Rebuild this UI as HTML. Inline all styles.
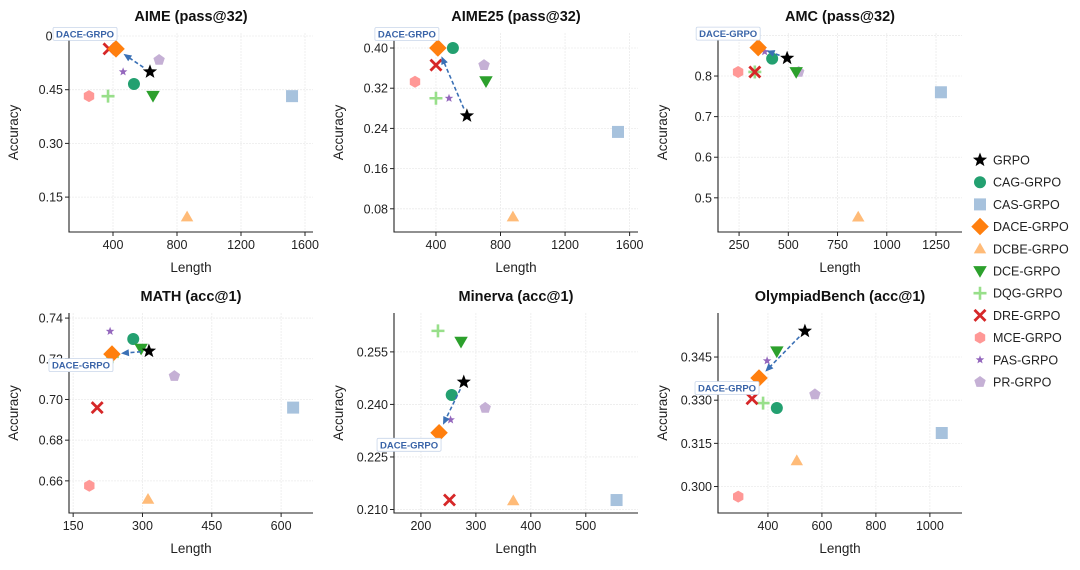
<!DOCTYPE html>
<html><head><meta charset="utf-8">
<style>
html,body{margin:0;padding:0;background:#fff;}
svg{display:block;font-family:"Liberation Sans",Arial,sans-serif;}
</style></head>
<body>
<svg id="chart" width="1080" height="570" viewBox="0 0 1080 570"></svg>
<script>
const methods = ["GRPO","CAG-GRPO","CAS-GRPO","DACE-GRPO","DCBE-GRPO","DCE-GRPO","DQG-GRPO","DRE-GRPO","MCE-GRPO","PAS-GRPO","PR-GRPO"];
const panelTitles = ["AIME (pass@32)","AIME25 (pass@32)","AMC (pass@32)","MATH (acc@1)","Minerva (acc@1)","OlympiadBench (acc@1)"];
// lengths per panel, in method order
const lenAIME    = [631,531,1519,419,863,650,369,375,250,463,688];
const accAIME    = [0.500,0.466,0.432,0.564,0.095,0.433,0.432,0.564,0.432,0.500,0.533];
const lenAIME25  = [592,505,1528,412,877,710,400,400,270,481,698];
const accAIME25  = [0.265,0.400,0.233,0.400,0.064,0.334,0.300,0.366,0.333,0.300,0.366];
const lenAMC     = [494,418,1275,347,855,540,330,330,245,380,553];
const accAMC     = [0.844,0.843,0.760,0.870,0.453,0.810,0.810,0.810,0.810,0.860,0.810];
const lenMATH    = [314,280,626,234,312,297,235,202,185,230,369];
const accMATH    = [0.7238,0.7297,0.696,0.7223,0.651,0.725,0.721,0.696,0.6576,0.7335,0.7115];
const lenMinerva = [278,256,556,233,368,273,231,252,null,254,317];
const accMinerva = [0.2464,0.2427,0.2127,0.2319,0.2125,0.2579,0.261,0.2127,null,0.2356,0.239];
const lenOly     = [537,433,1044,367,507,433,382,341,290,397,574];
const accOly     = [0.354,0.3273,0.3186,0.3377,0.309,0.347,0.329,0.3305,0.2965,0.3437,0.332];
const xTicksAll = [[400,800,1200,1600],[400,800,1200,1600],[250,500,750,1000,1250],[150,300,450,600],[200,300,400,500],[400,600,800,1000]];
const yTicksAll = [[0.15,0.30,0.45,0.6],[0.08,0.16,0.24,0.32,0.40],[0.5,0.6,0.7,0.8,0.9],[0.66,0.68,0.70,0.72,0.74],[0.210,0.225,0.240,0.255],[0.300,0.315,0.330,0.345]];
const yTickLabelsAll = [["0.15","0.30","0.45","0.6"],["0.08","0.16","0.24","0.32","0.40"],["0.5","0.6","0.7","0.8","0."],["0.66","0.68","0.70","0.72","0.74"],["0.210","0.225","0.240","0.255"],["0.300","0.315","0.330","0.345"]];

const lens=[lenAIME,lenAIME25,lenAMC,lenMATH,lenMinerva,lenOly];
const accs=[accAIME,accAIME25,accAMC,accMATH,accMinerva,accOly];
const domains=[[125,1650,0.0525,0.6084],[140,1652,0.0338,0.4299],[143,1382,0.4158,0.906],[141,669,0.6442,0.7425],[151,595,0.209,0.2661],[215,1119,0.2908,0.3603]];
const boxes=[[69,33,313,232],[394,33,638,232],[718,33,962,232],[69,313,313,513],[394,313,638,513],[718,313,962,513]];
const labelOff=[[-31,-15],[-31,-14],[-30,-14],[-31,11],[-30,12],[-32,10]];
const colors=["#000000","#23a070","#a7c2dd","#ff7f0e","#ffbb78","#2ca02c","#98df8a","#d62728","#ff9896","#9467bd","#c5b0d5"];
const shapes=["star","circle","square","diamond","triangle","tridown","plus","x","hexagon","star","pentagon"];
const sizes=[7.5,6,6,7,6,6.5,6.5,5.5,6,4.5,6];
const NS="http://www.w3.org/2000/svg";
const svg=document.getElementById("chart");
function mk(tag,attrs,parent){const e=document.createElementNS(NS,tag);for(const k in attrs)e.setAttribute(k,attrs[k]);(parent||svg).appendChild(e);return e;}
function poly(n,r,cx,cy,rot,inner){let p=[];const m=inner?2*n:n;for(let i=0;i<m;i++){const a=rot+i*Math.PI*2/m;const rr=(inner&&i%2)?r*inner:r;p.push((cx+rr*Math.sin(a)).toFixed(1)+","+(cy-rr*Math.cos(a)).toFixed(1));}return p.join(" ");}
function marker(g,shape,cx,cy,s,c){
  let e;
  if(shape==="circle") e=mk("circle",{cx,cy,r:s},g);
  else if(shape==="square") e=mk("rect",{x:cx-s,y:cy-s,width:2*s,height:2*s},g);
  else if(shape==="diamond") e=mk("polygon",{points:poly(4,s*1.25,cx,cy,0)},g);
  else if(shape==="triangle") e=mk("polygon",{points:poly(3,s*1.2,cx,cy+1,0)},g);
  else if(shape==="tridown") e=mk("polygon",{points:poly(3,s*1.2,cx,cy-1,Math.PI)},g);
  else if(shape==="hexagon") e=mk("polygon",{points:poly(6,s,cx,cy,0)},g);
  else if(shape==="pentagon") e=mk("polygon",{points:poly(5,s,cx,cy,0)},g);
  else if(shape==="star") e=mk("polygon",{points:poly(5,s,cx,cy,0,0.42)},g);
  else if(shape==="plus"){e=mk("path",{d:`M${cx-s},${cy}H${cx+s}M${cx},${cy-s}V${cy+s}`,stroke:c,"stroke-width":2.6,fill:"none"},g);return e;}
  else if(shape==="x"){e=mk("path",{d:`M${cx-s},${cy-s}L${cx+s},${cy+s}M${cx-s},${cy+s}L${cx+s},${cy-s}`,stroke:c,"stroke-width":2.8,fill:"none"},g);return e;}
  e.setAttribute("fill",c);return e;
}
for(let p=0;p<6;p++){
  const [x0,x1,y0,y1]=domains[p];const [L,T,R,B]=boxes[p];
  const sx=v=>L+(v-x0)/(x1-x0)*(R-L);
  const sy=v=>B-(v-y0)/(y1-y0)*(B-T);
  const g=mk("g",{});
  
  
  const grid=mk("g",{stroke:"#ebebeb","stroke-width":0.8,"stroke-dasharray":"2,1"},g);
  
  
  xTicksAll[p].forEach(v=>{mk("line",{x1:sx(v),x2:sx(v),y1:T,y2:B},grid);});
  yTicksAll[p].forEach(v=>{mk("line",{x1:L,x2:R,y1:sy(v),y2:sy(v)},grid);});
  const ax=mk("path",{d:`M${L},${T}V${B}H${R}`,stroke:"#222",fill:"none","stroke-width":1.1},g);
  
  
  xTicksAll[p].forEach(v=>{mk("line",{x1:sx(v),x2:sx(v),y1:B,y2:B+4,stroke:"#222"},g);
    const t=mk("text",{x:sx(v),y:B+17,"text-anchor":"middle","font-size":12.5,fill:"#222"},g);t.textContent=v;
    
    });
  yTicksAll[p].forEach((v,i)=>{mk("line",{x1:L-4,x2:L,y1:sy(v),y2:sy(v),stroke:"#222"},g);
    const t=mk("text",{x:L-6,y:sy(v)+4.5,"text-anchor":"end","font-size":12.5,fill:"#222"},g);t.textContent=yTickLabelsAll[p][i];
    
    });
  const tt=mk("text",{x:(L+R)/2,y:T-12,"text-anchor":"middle","font-size":14.5,"font-weight":"bold",fill:"#111"},g);tt.textContent=panelTitles[p];
  
  
  const xl=mk("text",{x:(L+R)/2,y:B+40,"text-anchor":"middle","font-size":13.5,fill:"#222"},g);xl.textContent="Length";
  
  
  const yl=mk("text",{x:0,y:0,"text-anchor":"middle","font-size":13.5,fill:"#222",transform:`translate(${L-51},${(T+B)/2}) rotate(-90)`},g);yl.textContent="Accuracy";
  
  
  // markers (draw order: others first, then GRPO & DACE)
  const order=[4,2,8,6,7,1,10,5,9,3,0];
  order.forEach(i=>{if(lens[p][i]==null)return;
    const m=marker(g,shapes[i],sx(lens[p][i]),sy(accs[p][i]),sizes[i],colors[i]);
    
    });
  // arrow GRPO -> DACE
  const gx=sx(lens[p][0]),gy=sy(accs[p][0]),dx=sx(lens[p][3]),dy=sy(accs[p][3]);
  const vx=dx-gx,vy=dy-gy,d=Math.hypot(vx,vy),ux=vx/d,uy=vy/d;
  const sxp=gx+ux*8,syp=gy+uy*8,ex=dx-ux*9,ey=dy-uy*9;
  const ar=mk("line",{x1:sxp,y1:syp,x2:ex-ux*5,y2:ey-uy*5,stroke:"#3a70b5","stroke-width":1.6,"stroke-dasharray":"4,2.5"},g);
  
  
  const hx=-uy,hy=ux;
  const ah=mk("polygon",{points:`${ex},${ey} ${ex-ux*8+hx*3.5},${ey-uy*8+hy*3.5} ${ex-ux*8-hx*3.5},${ey-uy*8-hy*3.5}`,fill:"#3a70b5"},g);
  
  
  // label
  const lx=dx+labelOff[p][0],ly=dy+labelOff[p][1];
  const lb=mk("rect",{x:lx-32,y:ly-6.5,width:64,height:13,fill:"#fff",stroke:"#c9d6ea","stroke-width":0.8,rx:1.5},g);
  
  
  const lt=mk("text",{x:lx,y:ly+3.5,"text-anchor":"middle","font-size":9.5,"font-weight":"bold",fill:"#3a64a8"},g);lt.textContent="DACE-GRPO";
  
  
}
// legend
const lg=mk("g",{});


methods.forEach((m,i)=>{
  const y=160+i*22.2;
  const e=mk("g",{},lg);
  
  
  marker(e,shapes[i],980,y,sizes[i],colors[i]);
  const t=mk("text",{x:993,y:y+4.5,"font-size":12.5,fill:"#222"},e);t.textContent=m;
});
</script>
</body></html>
